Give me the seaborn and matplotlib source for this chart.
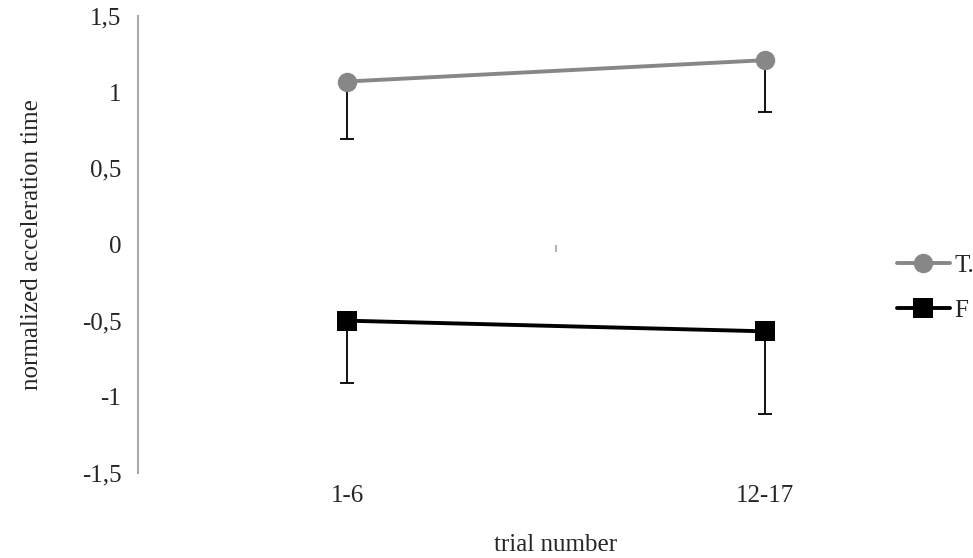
import pandas as pd
import matplotlib.pyplot as plt
import seaborn as sns

# values
trials = ["1-6", "12-17"]
t_mean = [1.07, 1.21]
t_err_low = [0.38, 0.34]
f_mean = [-0.50, -0.57]
f_err_low = [0.41, 0.54]
group_labels = ["T.", "F"]
group_colors = ["#878787", "#000000"]
group_markers = ["o", "s"]
y_ticks = [1.5, 1, 0.5, 0, -0.5, -1, -1.5]
y_tick_labels = ["1,5", "1", "0,5", "0", "-0,5", "-1", "-1,5"]

sns.set_style("white")
plt.rcParams['font.family'] = ['Liberation Serif', 'DejaVu Serif']

df = pd.DataFrame({
    "trial": trials * 2,
    "x": [0, 1] * 2,
    "value": t_mean + f_mean,
    "group": [group_labels[0]] * 2 + [group_labels[1]] * 2,
})

fig = plt.figure(figsize=(9.73, 5.58), dpi=100)
ax = fig.add_axes([138 / 973, 1 - 473 / 558, 836 / 973, 457 / 558])

# lower-only error bars
for means, errs in [(t_mean, t_err_low), (f_mean, f_err_low)]:
    ax.errorbar([0, 1], means, yerr=[errs, [0, 0]], fmt="none",
                ecolor="black", elinewidth=1.3, capsize=4.7, capthick=1.3, zorder=2)

sns.lineplot(data=df, x="x", y="value", hue="group", style="group",
             palette=group_colors, markers=group_markers, dashes=False,
             linewidth=2.8, markersize=14, markeredgewidth=0, ax=ax, zorder=3)

ax.set_xlim(-0.5, 1.5)
ax.set_ylim(-1.5, 1.5)
ax.set_xticks([0, 1])
ax.set_xticklabels(trials, fontsize=18)
ax.set_yticks(y_ticks)
ax.set_yticklabels(y_tick_labels, fontsize=18)
ax.tick_params(axis="y", direction="out", length=6, width=1, color="#b0b0b0", pad=6)
ax.tick_params(axis="x", length=0, pad=9)

for side in ["top", "right", "bottom"]:
    ax.spines[side].set_visible(False)
ax.spines["left"].set_color("#a8a8a8")
ax.spines["left"].set_linewidth(1.5)

# faint remnant of the category axis tick at y=0
ax.vlines(0.5, -0.05, 0, color="#b5b5b5", linewidth=1.5)

ax.set_xlabel("trial number", fontsize=18, labelpad=19)
ax.set_ylabel("normalized acceleration time", fontsize=18, labelpad=28)

handles, labels = ax.get_legend_handles_labels()
ax.legend(handles, labels, loc="center left", bbox_to_anchor=(897 / 973, 1 - 288 / 558),
          bbox_transform=fig.transFigure, frameon=False, borderpad=0, borderaxespad=0,
          handlelength=2.1, handletextpad=0.2, labelspacing=0.9, fontsize=18)

fig.savefig("out.png", dpi=100)
